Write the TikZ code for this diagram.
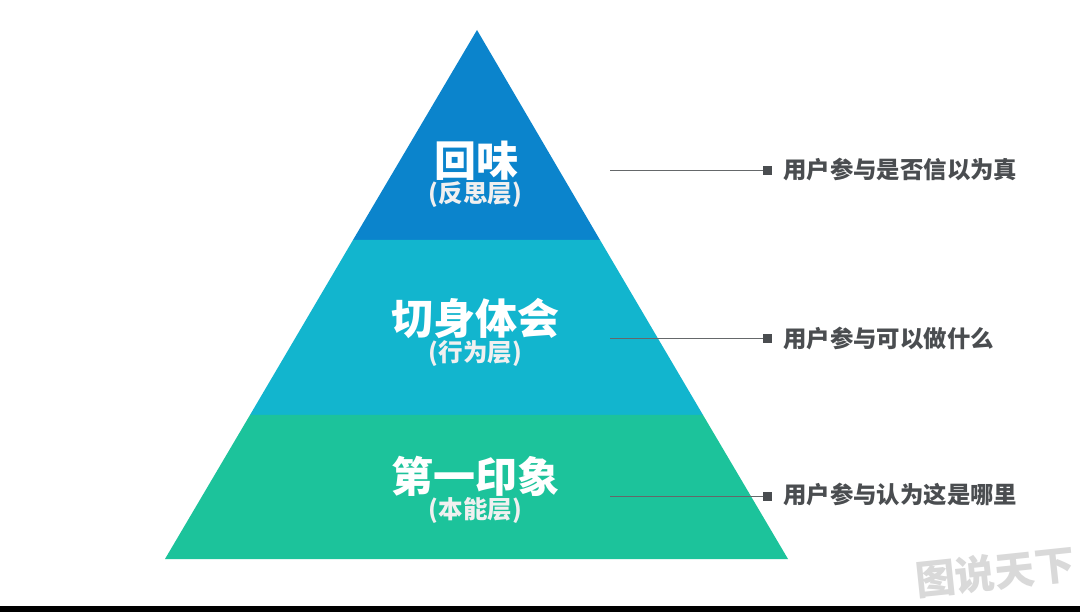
\documentclass[tikz,border=0pt]{standalone}
\usepackage{fontspec}
\setmainfont{Noto Sans CJK SC}
\definecolor{topblue}{HTML}{0B84CC}
\definecolor{midcyan}{HTML}{12B5CE}
\definecolor{lowgreen}{HTML}{1CC39B}
\definecolor{inkgrey}{HTML}{4A4D50}
\definecolor{wmgrey}{HTML}{D9D9D9}
\tikzset{
  x=1pt,y=-1pt,
  title/.style={text=white,font=\fontsize{42}{42}\selectfont\bfseries,inner sep=0pt},
  subtitle/.style={text=white!94!black,font=\fontsize{24.5}{25}\selectfont\bfseries,inner sep=0pt},
  label/.style={text=inkgrey,font=\fontsize{23.4}{24}\selectfont\bfseries,anchor=west,inner sep=0pt},
  marker/.style={fill=inkgrey,minimum size=9pt,inner sep=0pt,outer sep=0pt},
  leader/.style={line width=1pt,draw=inkgrey!85},
}
\begin{document}
\begin{tikzpicture}
\useasboundingbox (0,0) rectangle (1080,612);
\fill[white] (0,0) rectangle (1080,612);
\fill[black] (0,606) rectangle (1080,612);
\fill[topblue] (477,30) -- (600,240) -- (353,240) -- cycle;
\fill[midcyan] (353,240) -- (600,240) -- (703,415) -- (250,415) -- cycle;
\fill[lowgreen] (250,415) -- (703,415) -- (788,559) -- (165,559) -- cycle;
\node[title] (t1) at (476,161) {回味};
\node[subtitle] (s1) at (475.5,195) {(反思层)};
\node[title] (t2) at (475,319) {切身体会};
\node[subtitle] (s2) at (475.5,354) {(行为层)};
\node[title] (t3) at (475,476) {第一印象};
\node[subtitle] (s3) at (475.5,511) {(本能层)};
\coordinate (a1) at (610,171);
\coordinate (a2) at (610,339);
\coordinate (a3) at (610,496);
\node[marker] (m1) at (767.5,171) {};
\node[marker] (m2) at (767.5,339) {};
\node[marker] (m3) at (767.5,496) {};
\draw[leader] (a1) -- (m1);
\draw[leader] (a2) -- (m2);
\draw[leader] (a3) -- (m3);
\node[label] (l1) at (783,170) {用户参与是否信以为真};
\node[label] (l2) at (783,339) {用户参与可以做什么};
\node[label] (l3) at (783,495) {用户参与认为这是哪里};
\node[text=wmgrey,font=\fontsize{40}{40}\selectfont\bfseries,inner sep=0pt,rotate=6] (wm) at (995,572) {图说天下};
\end{tikzpicture}
\end{document}
